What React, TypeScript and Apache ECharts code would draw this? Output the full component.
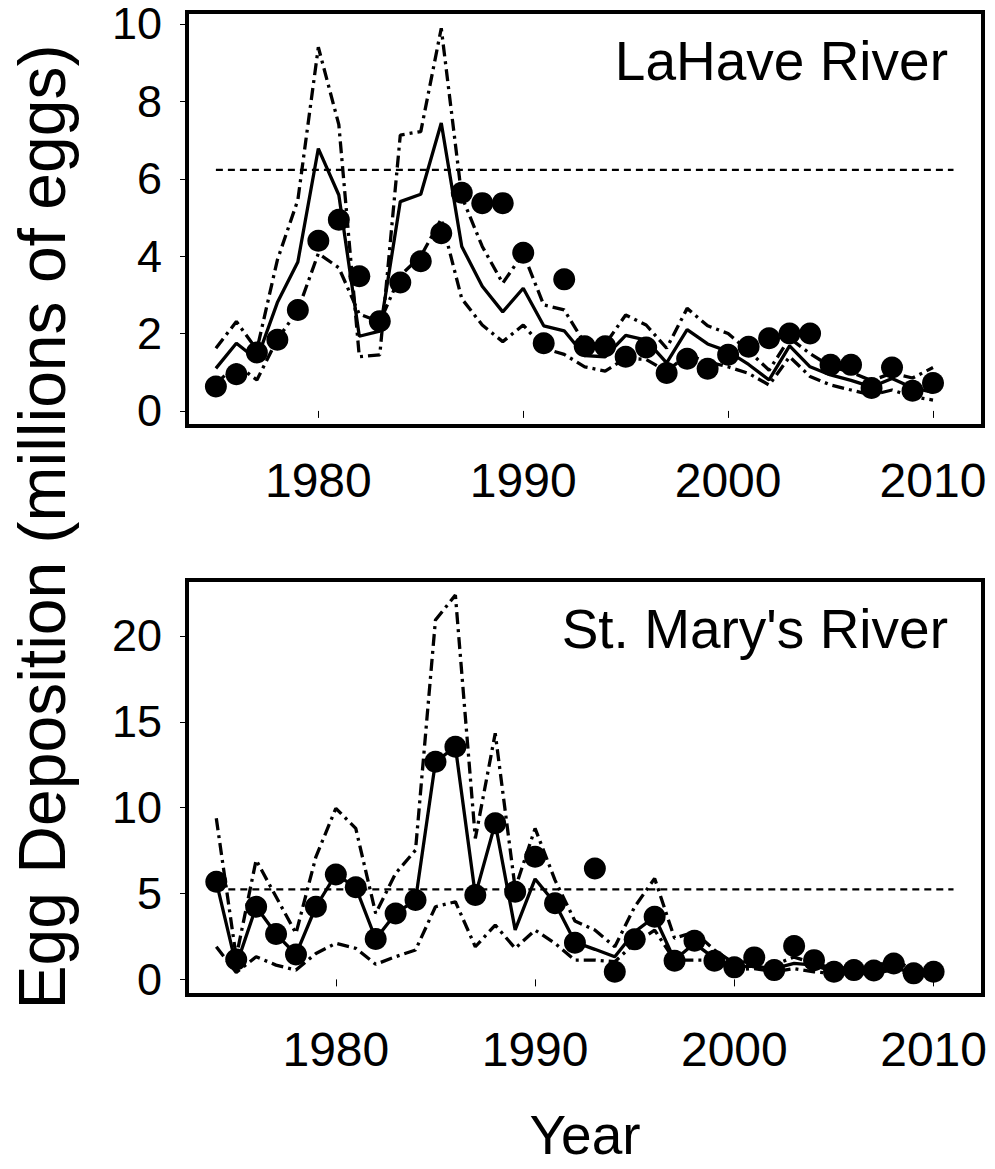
import React, { useEffect, useRef } from "react";
import * as echarts from "echarts";

// ---------- DATA ----------
const lahaveYears = [
  1975, 1976, 1977, 1978, 1979, 1980, 1981, 1982, 1983, 1984, 1985, 1986,
  1987, 1988, 1989, 1990, 1991, 1992, 1993, 1994, 1995, 1996, 1997, 1998,
  1999, 2000, 2001, 2002, 2003, 2004, 2005, 2006, 2007, 2008, 2009, 2010,
];
const lahaveObserved = [
  0.63, 0.95, 1.51, 1.84, 2.61, 4.4, 4.94, 3.48, 2.32, 3.32, 3.87, 4.59,
  5.64, 5.37, 5.37, 4.09, 1.75, 3.4, 1.67, 1.67, 1.4, 1.64, 0.98, 1.35,
  1.09, 1.45, 1.66, 1.88, 2.0, 2.0, 1.19, 1.19, 0.59, 1.12, 0.52, 0.72,
];
const lahaveModel = [
  1.1, 1.75, 1.33, 2.8, 3.85, 6.78, 5.58, 1.93, 2.06, 5.41, 5.6, 7.44,
  4.25, 3.22, 2.56, 3.17, 2.2, 2.07, 1.43, 1.4, 1.95, 1.83, 1.24, 2.1,
  1.73, 1.54, 1.2, 0.8, 1.68, 1.14, 0.93, 0.79, 0.62, 0.84, 0.6, 0.48,
];
const lahaveBoundA = [
  1.62, 2.31, 1.58, 3.9, 5.45, 9.4, 7.4, 1.4, 1.45, 7.13, 7.22, 9.89,
  5.54, 4.25, 3.3, 4.07, 2.74, 2.61, 1.75, 1.72, 2.48, 2.22, 1.62, 2.65,
  2.2, 2.0, 1.55, 1.05, 1.88, 1.48, 1.15, 1.0, 0.78, 0.98, 0.85, 1.12,
];
const lahaveBoundB = [
  0.7, 1.2, 0.8, 1.85, 2.6, 4.07, 3.7, 2.5, 2.3, 3.5, 4.0, 4.96,
  2.9, 2.22, 1.79, 2.22, 1.62, 1.46, 1.14, 1.03, 1.36, 1.33, 1.02, 1.45,
  1.27, 1.14, 0.97, 0.67, 1.4, 0.89, 0.67, 0.54, 0.41, 0.54, 0.37, 0.28,
];
const lahaveReference = 6.23;
const lahaveRefYears = [1975, 2011];

const stmarysYears = [
  1974, 1975, 1976, 1977, 1978, 1979, 1980, 1981, 1982, 1983, 1984, 1985,
  1986, 1987, 1988, 1989, 1990, 1991, 1992, 1993, 1994, 1995, 1996, 1997,
  1998, 1999, 2000, 2001, 2002, 2003, 2004, 2005, 2006, 2007, 2008, 2009, 2010,
];
const stmarysObserved = [
  5.69, 1.16, 4.23, 2.64, 1.45, 4.23, 6.11, 5.36, 2.35, 3.84, 4.62, 12.67,
  13.55, 4.91, 9.09, 5.1, 7.14, 4.43, 2.13, 6.46, 0.44, 2.33, 3.65, 1.08,
  2.25, 1.08, 0.7, 1.28, 0.54, 1.94, 1.12, 0.44, 0.54, 0.52, 0.93, 0.35, 0.44,
];
const stmarysModel = [
  5.69, 0.8, 4.23, 2.64, 1.45, 4.23, 6.11, 5.36, 2.35, 3.84, 4.62, 12.67,
  13.55, 4.91, 9.09, 2.88, 5.85, 4.43, 2.17, 1.75, 1.32, 2.77, 3.65, 1.13,
  2.1, 1.22, 0.73, 0.77, 0.63, 0.93, 0.83, 0.44, 0.44, 0.44, 0.73, 0.31, 0.38,
];
const stmarysBoundA = [
  9.38, 1.3, 6.95, 4.81, 2.68, 7.14, 9.96, 8.79, 3.84, 6.17, 7.53, 20.93,
  22.38, 8.21, 14.33, 5.3, 8.79, 5.78, 3.4, 2.87, 1.9, 4.23, 5.88, 2.39,
  2.77, 1.71, 0.93, 1.1, 0.85, 1.3, 0.93, 0.65, 0.65, 0.7, 1.2, 0.5, 0.5,
];
const stmarysBoundB = [
  1.9, 0.4, 1.32, 0.83, 0.54, 1.51, 2.1, 1.81, 0.88, 1.32, 1.71, 4.23,
  4.52, 1.9, 3.16, 1.81, 2.87, 2.1, 1.12, 1.12, 1.03, 2.1, 2.87, 1.12,
  1.12, 1.12, 0.54, 0.63, 0.44, 0.63, 0.44, 0.35, 0.35, 0.37, 0.54, 0.3, 0.3,
];
const stmarysReference = 5.24;
const stmarysRefYears = [1974, 2011];

const xTickYears = [1980, 1990, 2000, 2010];
const lahaveYTicks = [0, 2, 4, 6, 8, 10];
const stmarysYTicks = [0, 5, 10, 15, 20];

// ---------- HELPERS ----------
const FONT = "'Liberation Sans', Arial, Helvetica, sans-serif";
const DASH_DOT = [12, 5, 3, 5];

const pairs = (xs: number[], ys: number[]) => xs.map((x, i) => [x, ys[i]]);

function lineSeries(idx: number, data: number[][], type: any, width = 3) {
  return {
    type: "line",
    xAxisIndex: idx,
    yAxisIndex: idx,
    data,
    symbol: "none",
    silent: true,
    z: 2,
    lineStyle: { color: "#000", width, type, opacity: 1 },
  };
}

function panelSeries(
  idx: number,
  years: number[],
  obs: number[],
  model: number[],
  a: number[],
  b: number[],
  ref: number,
  refYears: number[]
) {
  return [
    lineSeries(idx, refYears.map((y) => [y, ref]), [7, 5], 2.4),
    lineSeries(idx, pairs(years, a), DASH_DOT, 3.3),
    lineSeries(idx, pairs(years, b), DASH_DOT, 3.3),
    lineSeries(idx, pairs(years, model), "solid", 3.3),
    {
      type: "scatter",
      xAxisIndex: idx,
      yAxisIndex: idx,
      data: pairs(years, obs),
      symbol: "circle",
      symbolSize: 22,
      z: 5,
      itemStyle: { color: "#000", opacity: 1 },
    },
  ];
}

function xAxisCfg(idx: number, min: number, max: number) {
  return {
    type: "value",
    gridIndex: idx,
    min,
    max,
    axisLine: { show: false },
    splitLine: { show: false },
    axisTick: {
      show: true,
      length: 7,
      customValues: xTickYears,
      lineStyle: { color: "#000", width: 1 },
    },
    axisLabel: {
      customValues: xTickYears,
      margin: 30,
      fontSize: 48,
      fontFamily: FONT,
      color: "#000",
      formatter: (v: number) => String(Math.round(v)),
    },
  };
}

function yAxisCfg(idx: number, min: number, max: number, ticks: number[]) {
  return {
    type: "value",
    gridIndex: idx,
    min,
    max,
    axisLine: { show: false },
    splitLine: { show: false },
    axisTick: {
      show: true,
      length: 7,
      customValues: ticks,
      lineStyle: { color: "#000", width: 1 },
    },
    axisLabel: {
      customValues: ticks,
      margin: 25,
      fontSize: 45,
      lineHeight: 36,
      fontFamily: FONT,
      color: "#000",
      formatter: (v: number) => String(Math.round(v)),
    },
  };
}

export default function App() {
  const ref = useRef<HTMLDivElement>(null);

  useEffect(() => {
    if (!ref.current) return;
    const chart = echarts.init(ref.current, undefined, { renderer: "svg" });
    const gridStyle = {
      show: true,
      borderColor: "#000",
      borderWidth: 4,
      backgroundColor: "transparent",
    };
    const option: any = {
      animation: false,
      backgroundColor: "#fff",
      grid: [
        { left: 187, top: 12, width: 796, height: 414, ...gridStyle },
        { left: 187, top: 580, width: 796, height: 415, ...gridStyle },
      ],
      xAxis: [xAxisCfg(0, 1973.59, 2012.44), xAxisCfg(1, 1972.53, 2012.48)],
      yAxis: [
        yAxisCfg(0, -0.39, 10.31, lahaveYTicks),
        yAxisCfg(1, -0.91, 23.26, stmarysYTicks),
      ],
      series: [
        ...panelSeries(
          0,
          lahaveYears,
          lahaveObserved,
          lahaveModel,
          lahaveBoundA,
          lahaveBoundB,
          lahaveReference,
          lahaveRefYears
        ),
        ...panelSeries(
          1,
          stmarysYears,
          stmarysObserved,
          stmarysModel,
          stmarysBoundA,
          stmarysBoundB,
          stmarysReference,
          stmarysRefYears
        ),
      ],
      graphic: [
        {
          type: "text",
          x: 948,
          y: 61,
          style: {
            text: "LaHave River",
            fontSize: 55,
            fontFamily: FONT,
            fill: "#000",
            align: "right",
            verticalAlign: "middle",
          },
        },
        {
          type: "text",
          x: 948,
          y: 629,
          style: {
            text: "St. Mary's River",
            fontSize: 55,
            fontFamily: FONT,
            fill: "#000",
            align: "right",
            verticalAlign: "middle",
          },
        },
        {
          type: "text",
          x: 42,
          y: 527,
          rotation: Math.PI / 2,
          style: {
            text: "Egg Deposition (millions of eggs)",
            fontSize: 66,
            fontFamily: FONT,
            fill: "#000",
            align: "center",
            verticalAlign: "middle",
          },
        },
        {
          type: "text",
          x: 585,
          y: 1135,
          style: {
            text: "Year",
            fontSize: 55,
            fontFamily: FONT,
            fill: "#000",
            align: "center",
            verticalAlign: "middle",
          },
        },
      ],
    };
    chart.setOption(option);
    return () => chart.dispose();
  }, []);

  return (
    <div
      ref={ref}
      style={{ position: "fixed", left: 0, top: 0, width: 995, height: 1169, background: "#fff" }}
    />
  );
}
